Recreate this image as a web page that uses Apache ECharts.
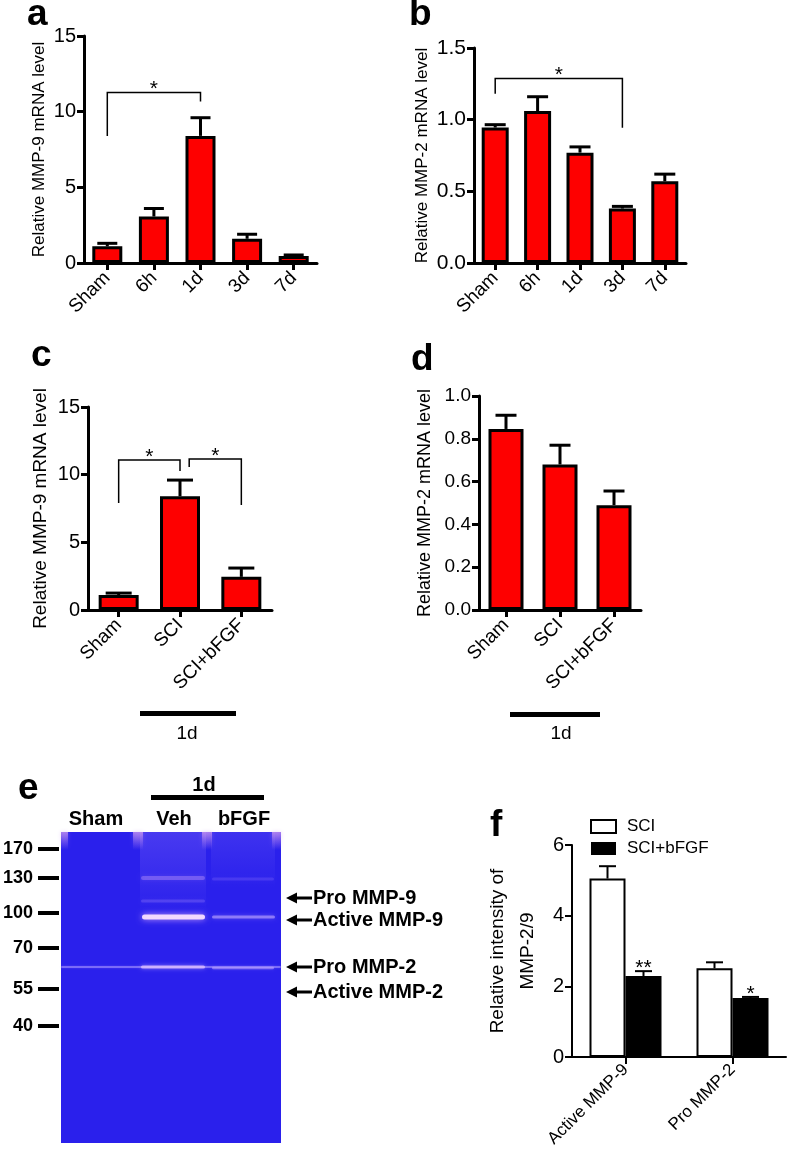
<!DOCTYPE html>
<html><head><meta charset="utf-8">
<script src="https://cdn.jsdelivr.net/npm/echarts@6/dist/echarts.min.js"></script>
<style>html,body{margin:0;padding:0;background:#fff}#c{width:788px;height:1154px}</style>
</head><body><div id="c"></div>
<script>
// ---------------- DATA ----------------
const timeCats = ['Sham', '6h', '1d', '3d', '7d'];
const aMean = [1.1, 3.07, 8.4, 1.6, 0.47];
const aErrTop = [1.3, 3.6, 9.6, 1.9, 0.53];
const bMean = [0.945, 1.06, 0.77, 0.38, 0.57];
const bErrTop = [0.965, 1.16, 0.81, 0.395, 0.62];
const treatCats = ['Sham', 'SCI', 'SCI+bFGF'];
const cMean = [1.1, 8.4, 2.45];
const cErrTop = [1.25, 9.6, 3.1];
const dMean = [0.846, 0.68, 0.49];
const dErrTop = [0.91, 0.77, 0.556];
const fCats = ['Active MMP-9', 'Pro MMP-2'];
const fNames = ['SCI', 'SCI+bFGF'];
const fSCI = [5.05, 2.51];
const fSCIErrTop = [5.4, 2.68];
const fBFGF = [2.29, 1.67];
const fBFGFErrTop = [2.43, 1.7];
const fStars = ['**', '*'];
// brackets: [fromPos, toPos, topY, leftEndY, rightEndY]
const aBrackets = [[0, 2, 11.27, 8.4, 10.67]];
const aBracketLabels = ['*'];
const bBrackets = [[0, 3, 1.287, 1.18, 0.944]];
const bBracketLabels = ['*'];
const cBrackets = [[0, 1, 11.08, 7.9, 10.27], [1.15, 2, 11.16, 10.57, 7.76]];
const cBracketLabels = ['*', '*'];
const yTicksA = {min: 0, max: 15, interval: 5};
const yTicksB = {min: 0, max: 1.5, interval: 0.5};
const yTicksC = {min: 0, max: 15, interval: 5};
const yTicksD = {min: 0, max: 1.0, interval: 0.2};
const yTicksF = {min: 0, max: 6, interval: 2};
const gelMarkers = ['170', '130', '100', '70', '55', '40'];
const gelLanes = ['Sham', 'Veh', 'bFGF'];
const gelBandLabels = ['Pro MMP-9', 'Active MMP-9', 'Pro MMP-2', 'Active MMP-2'];

// ---------------- HELPERS ----------------
const FONT = "'Liberation Sans', Arial, Helvetica, sans-serif";
const RED = '#fe0000';

function xAxisCfg(gi, cats, lw, fs, mg) {
  return {
    type: 'category', gridIndex: gi, data: cats,
    axisLine: {lineStyle: {color: '#000', width: lw}},
    axisTick: {show: true, alignWithLabel: true, length: 7, lineStyle: {color: '#000', width: lw}},
    axisLabel: {rotate: 45, interval: 0, fontSize: fs, color: '#000', margin: mg, fontFamily: FONT},
    splitLine: {show: false}
  };
}
function yAxisCfg(gi, t, name, gap, fs, dec, lw, nameFs, lineH) {
  return {
    type: 'value', gridIndex: gi, min: t.min, max: t.max, interval: t.interval,
    name: name, nameLocation: 'middle', nameRotate: 90, nameGap: gap,
    nameTextStyle: {fontSize: nameFs, color: '#000', fontFamily: FONT, lineHeight: lineH || nameFs * 1.2},
    axisLine: {show: true, lineStyle: {color: '#000', width: lw}},
    axisTick: {show: true, length: 7, lineStyle: {color: '#000', width: lw}},
    axisLabel: {fontSize: fs, color: '#000', margin: 8, fontFamily: FONT,
      formatter: v => dec ? v.toFixed(dec) : String(Math.round(v))},
    splitLine: {show: false}
  };
}
function barSeries(gi, data, bw, opts) {
  return Object.assign({
    type: 'bar', xAxisIndex: gi, yAxisIndex: gi, data: data, barWidth: bw, silent: true,
    itemStyle: {color: RED, borderColor: '#000', borderWidth: 3}
  }, opts || {});
}
function errSeries(gi, means, tops, cap, lw, offsetPx) {
  return {
    type: 'custom', xAxisIndex: gi, yAxisIndex: gi, z: 5, silent: true,
    data: means.map((m, i) => [i, m, tops[i]]),
    encode: {x: 0, y: [1, 2]},
    renderItem(params, api) {
      const p0 = api.coord([api.value(0), api.value(1)]);
      const p1 = api.coord([api.value(0), api.value(2)]);
      const x = p0[0] + (offsetPx || 0);
      const st = {stroke: '#000', lineWidth: lw};
      return {type: 'group', children: [
        {type: 'line', shape: {x1: x, y1: p0[1], x2: x, y2: p1[1]}, style: st},
        {type: 'line', shape: {x1: x - cap / 2, y1: p1[1], x2: x + cap / 2, y2: p1[1]}, style: st}
      ]};
    }
  };
}
function bracketSeries(gi, brackets, labels) {
  return {
    type: 'custom', xAxisIndex: gi, yAxisIndex: gi, z: 6, silent: true,
    data: brackets,
    encode: {x: [0, 1], y: [2, 3, 4]},
    renderItem(params, api) {
      const band = api.size([1, 0])[0];
      const px = v => { const f = Math.floor(v); return api.coord([f, 0])[0] + (v - f) * band; };
      const x1 = px(api.value(0)), x2 = px(api.value(1));
      const yt = api.coord([0, api.value(2)])[1];
      const yl = api.coord([0, api.value(3)])[1];
      const yr = api.coord([0, api.value(4)])[1];
      return {type: 'group', children: [
        {type: 'polyline', shape: {points: [[x1, yl], [x1, yt], [x2, yt], [x2, yr]]},
          style: {stroke: '#000', lineWidth: 1.5, fill: null}},
        {type: 'text', style: {text: labels[params.dataIndex], x: (x1 + x2) / 2, y: yt - 3,
          textAlign: 'center', textVerticalAlign: 'middle', fontSize: 21, fontFamily: FONT, fill: '#000'}}
      ]};
    }
  };
}

// ---------------- GEL (panel e) ----------------
const gel = [];
const GX = 61, GY = 832, GW = 220, GH = 311;
function vgrad(c0, c1) { return {type: 'linear', x: 0, y: 0, x2: 0, y2: 1, colorStops: [{offset: 0, color: c0}, {offset: 1, color: c1}]}; }
gel.push({type: 'rect', shape: {x: GX, y: GY, width: GW, height: GH}, style: {fill: '#2a20ec'}});
// lane haze
gel.push({type: 'rect', shape: {x: 140, y: GY, width: 66, height: 80}, style: {fill: vgrad('rgba(110,90,245,0.45)', 'rgba(110,90,245,0)')}});
gel.push({type: 'rect', shape: {x: 211, y: GY, width: 64, height: 55}, style: {fill: vgrad('rgba(100,85,245,0.35)', 'rgba(100,85,245,0)')}});
// wells (lighter pinkish at top)
[[GX, 7], [133, 10], [202, 10], [272, 9]].forEach(w => {
  gel.push({type: 'rect', shape: {x: w[0], y: GY, width: w[1], height: 18},
    style: {fill: vgrad('rgba(215,160,240,0.7)', 'rgba(150,110,240,0)'), shadowBlur: 4, shadowColor: 'rgba(190,140,240,0.5)'}});
});
// faint bands
function band(x, y, w, h, color, blur, shadow) {
  gel.push({type: 'rect', shape: {x: x, y: y - h / 2, width: w, height: h, r: h / 2},
    style: {fill: color, shadowBlur: blur || 0, shadowColor: shadow || color}});
}
band(141, 878, 64, 4, 'rgba(190,150,250,0.4)', 4);
band(212, 879, 62, 3, 'rgba(140,115,250,0.25)', 3);
band(141, 901, 64, 3, 'rgba(150,125,250,0.3)', 3);
band(GX, 967, GW, 2, 'rgba(170,150,255,0.55)', 2);
band(141, 967, 64, 3, 'rgba(230,200,255,0.7)', 4);
band(212, 968, 62, 2.5, 'rgba(195,170,255,0.5)', 3);
band(142, 917, 63, 5, 'rgba(255,230,255,0.9)', 6, 'rgba(255,200,255,0.8)');
band(212, 917, 63, 3, 'rgba(205,180,255,0.55)', 4);

const markerY = [849, 878, 913, 948, 989, 1026];
gelMarkers.forEach((m, i) => {
  gel.push({type: 'text', style: {text: m, x: 33, y: markerY[i], textAlign: 'right', textVerticalAlign: 'middle',
    fontSize: 18, fontWeight: 'bold', fontFamily: FONT, fill: '#000'}});
  gel.push({type: 'rect', shape: {x: 38, y: markerY[i] - 2, width: 21, height: 4}, style: {fill: '#000'}});
});
const laneX = [96, 174, 244];
gelLanes.forEach((l, i) => {
  gel.push({type: 'text', style: {text: l, x: laneX[i], y: 819, textAlign: 'center', textVerticalAlign: 'middle',
    fontSize: 20, fontWeight: 'bold', fontFamily: FONT, fill: '#000'}});
});
gel.push({type: 'text', style: {text: '1d', x: 204, y: 785, textAlign: 'center', textVerticalAlign: 'middle',
  fontSize: 20, fontWeight: 'bold', fontFamily: FONT, fill: '#000'}});
gel.push({type: 'rect', shape: {x: 151, y: 795, width: 113, height: 5}, style: {fill: '#000'}});
const arrowY = [898, 920, 967, 992];
gelBandLabels.forEach((t, i) => {
  const y = arrowY[i];
  gel.push({type: 'polygon', shape: {points: [[286, y], [297, y - 5.5], [297, y + 5.5]]}, style: {fill: '#000'}});
  gel.push({type: 'rect', shape: {x: 295, y: y - 1.5, width: 17, height: 3}, style: {fill: '#000'}});
  gel.push({type: 'text', style: {text: t, x: 313, y: y, textAlign: 'left', textVerticalAlign: 'middle',
    fontSize: 20, fontWeight: 'bold', fontFamily: FONT, fill: '#000'}});
});

// ---------------- OTHER ANNOTATIONS ----------------
const ann = [];
function letter(t, x, y) {
  ann.push({type: 'text', style: {text: t, x: x, y: y, textAlign: 'left', textVerticalAlign: 'middle',
    fontSize: 37, fontWeight: 'bold', fontFamily: FONT, fill: '#000'}});
}
letter('a', 27, 15); letter('b', 409, 15);
letter('c', 31, 356); letter('d', 411, 360);
letter('e', 18, 789); letter('f', 490, 826);
// 1d bars under c and d
ann.push({type: 'rect', shape: {x: 140, y: 711, width: 96, height: 5}, style: {fill: '#000'}});
ann.push({type: 'text', style: {text: '1d', x: 187, y: 734, textAlign: 'center', textVerticalAlign: 'middle',
  fontSize: 19, fontFamily: FONT, fill: '#000'}});
ann.push({type: 'rect', shape: {x: 510, y: 712, width: 90, height: 5}, style: {fill: '#000'}});
ann.push({type: 'text', style: {text: '1d', x: 561, y: 734, textAlign: 'center', textVerticalAlign: 'middle',
  fontSize: 19, fontFamily: FONT, fill: '#000'}});

// ---------------- CHART ----------------
const chart = echarts.init(document.getElementById('c'), null, {renderer: 'canvas'});
const option = {
  animation: false,
  backgroundColor: '#fff',
  textStyle: {fontFamily: FONT},
  grid: [
    {left: 84, top: 36, width: 233, height: 227},
    {left: 474, top: 48, width: 212, height: 215},
    {left: 88, top: 407, width: 184, height: 203},
    {left: 479, top: 396, width: 162, height: 214},
    {left: 572, top: 845, width: 214, height: 212}
  ],
  xAxis: [
    xAxisCfg(0, timeCats, 3, 19, 12),
    xAxisCfg(1, timeCats, 3, 19, 12),
    xAxisCfg(2, treatCats, 3, 19, 12),
    xAxisCfg(3, treatCats, 3, 19, 12),
    xAxisCfg(4, fCats, 2, 17, 10)
  ],
  yAxis: [
    yAxisCfg(0, yTicksA, 'Relative MMP-9 mRNA level', 34, 20, 0, 3, 17),
    yAxisCfg(1, yTicksB, 'Relative MMP-2 mRNA level', 41, 21, 1, 3, 17),
    yAxisCfg(2, yTicksC, 'Relative MMP-9 mRNA level', 36, 20, 0, 3, 19),
    yAxisCfg(3, yTicksD, 'Relative MMP-2 mRNA level', 43, 19, 1, 3, 18),
    yAxisCfg(4, yTicksF, 'Relative intensity of\nMMP-2/9', 29, 20, 0, 2, 19, 30)
  ],
  legend: {
    left: 590, top: 818, orient: 'vertical', itemWidth: 25, itemHeight: 13, itemGap: 5, padding: 0,
    icon: 'rect', selectedMode: false,
    textStyle: {fontSize: 17, color: '#000', fontFamily: FONT, padding: [0, 0, 0, 6]},
    data: [
      {name: fNames[0], itemStyle: {color: '#fff', borderColor: '#000', borderWidth: 2}},
      {name: fNames[1], itemStyle: {color: '#000', borderColor: '#000', borderWidth: 0}}
    ]
  },
  graphic: gel.concat(ann),
  series: [
    barSeries(0, aMean, 30),
    errSeries(0, aMean, aErrTop, 20, 3),
    bracketSeries(0, aBrackets, aBracketLabels),
    barSeries(1, bMean, 27),
    errSeries(1, bMean, bErrTop, 21, 3),
    bracketSeries(1, bBrackets, bBracketLabels),
    barSeries(2, cMean, 40),
    errSeries(2, cMean, cErrTop, 26, 3),
    bracketSeries(2, cBrackets, cBracketLabels),
    barSeries(3, dMean, 35),
    errSeries(3, dMean, dErrTop, 21, 3),
    barSeries(4, fSCI, 36, {name: fNames[0], barGap: '0%', itemStyle: {color: '#fff', borderColor: '#000', borderWidth: 2}}),
    barSeries(4, fBFGF, 36, {name: fNames[1], barGap: '0%', itemStyle: {color: '#000', borderColor: '#000', borderWidth: 2}}),
    errSeries(4, fSCI, fSCIErrTop, 17, 2, -18),
    errSeries(4, fBFGF, fBFGFErrTop, 17, 2, 18),
    {
      type: 'custom', xAxisIndex: 4, yAxisIndex: 4, z: 6, silent: true,
      data: fBFGFErrTop.map((v, i) => [i, v]),
      encode: {x: 0, y: 1},
      renderItem(params, api) {
        const p = api.coord([api.value(0), api.value(1)]);
        return {type: 'text', style: {text: fStars[params.dataIndex], x: p[0] + 18, y: p[1] - 3,
          textAlign: 'center', textVerticalAlign: 'middle', fontSize: 21, fontFamily: FONT, fill: '#000'}};
      }
    }
  ]
};
chart.setOption(option);
</script>
</body></html>
